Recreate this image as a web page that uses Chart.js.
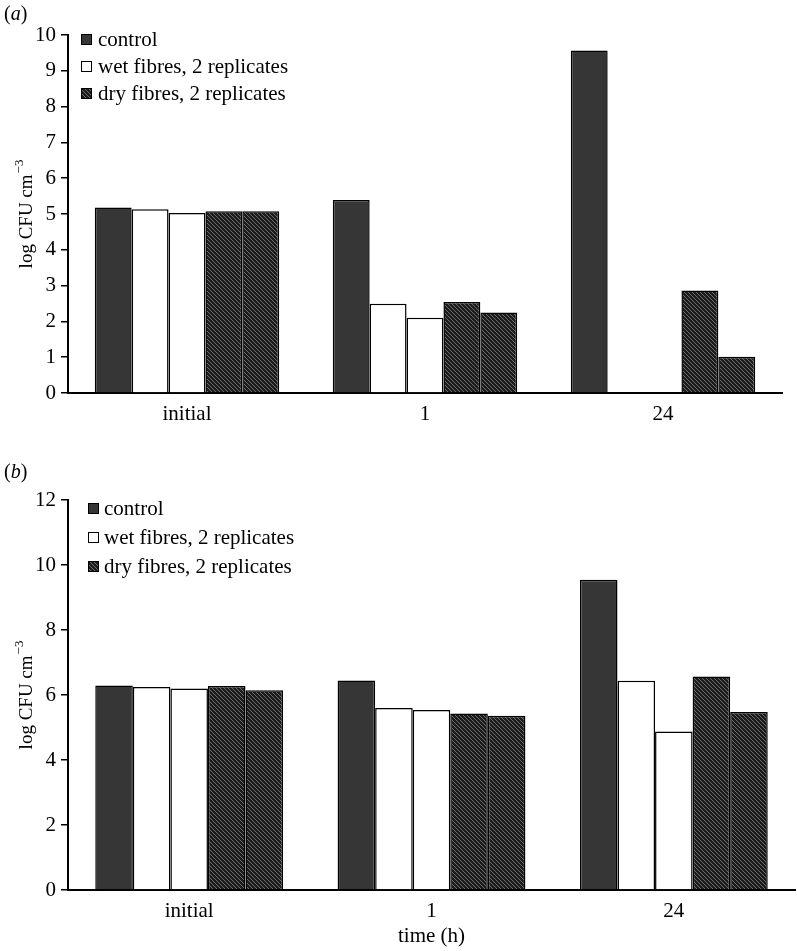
<!DOCTYPE html>
<html>
<head>
<meta charset="utf-8">
<script src="https://cdn.jsdelivr.net/npm/chart.js@4.4.0/dist/chart.umd.min.js"></script>
<style>
  body { margin: 0; background: #fff; }
  #wrap { position: relative; width: 797px; height: 951px; }
  .panel { position: absolute; left: 0; width: 797px; }
  .tag { position: absolute; left: 4px; font-family: "Liberation Serif", serif; font-size: 20px; }
  .tag i { font-style: italic; }
</style>
</head>
<body>
<div id="wrap">
  <div class="panel" style="top:0;height:430px"><canvas id="chartA"></canvas></div>
  <div class="panel" style="top:440px;height:511px"><canvas id="chartB"></canvas></div>
  <div class="tag" style="top:2px">(<i>a</i>)</div>
  <div class="tag" style="top:460px">(<i>b</i>)</div>
</div>
<script>
const categories = ["initial", "1", "24"];
const legendLabels = ["control", "wet fibres, 2 replicates", "dry fibres, 2 replicates"];

// panel (a)
const aControl = [5.18, 5.39, 9.57];
const aWet1 = [5.13, 2.49, null];
const aWet2 = [5.03, 2.10, null];
const aDry1 = [5.08, 2.54, 2.86];
const aDry2 = [5.08, 2.25, 1.01];

// panel (b)
const bControl = [6.29, 6.45, 9.55];
const bWet1 = [6.25, 5.60, 6.44];
const bWet2 = [6.20, 5.54, 4.88];
const bDry1 = [6.28, 5.43, 6.57];
const bDry2 = [6.15, 5.36, 5.48];

const SERIF = '"Liberation Serif", "Times New Roman", serif';

// hatch fill for the dry fibres
function makeHatch() {
  const c = document.createElement("canvas");
  c.width = 4; c.height = 4;
  const g = c.getContext("2d");
  g.fillStyle = "#1c1c1c";
  g.fillRect(0, 0, 4, 4);
  g.strokeStyle = "#6a6a6a";
  g.lineWidth = 1;
  g.beginPath();
  g.moveTo(0, 0); g.lineTo(4, 4);
  g.moveTo(-1, 3); g.lineTo(1, 5);
  g.moveTo(3, -1); g.lineTo(5, 1);
  g.stroke();
  return g.createPattern(c, "repeat");
}
const hatch = makeHatch();

const boxLegend = {
  id: "boxLegend",
  afterDraw(chart, args, opts) {
    const { ctx, chartArea } = chart;
    ctx.save();
    ctx.font = "21px " + SERIF;
    ctx.textBaseline = "middle";
    opts.items.forEach((dsIndex, i) => {
      const ds = chart.data.datasets[dsIndex];
      const x = chartArea.left + opts.left;
      const y = chartArea.top + opts.top + i * opts.gap;
      ctx.fillStyle = ds.backgroundColor;
      ctx.fillRect(x, y - 5, 11, 11);
      ctx.strokeStyle = "#000";
      ctx.lineWidth = 1;
      ctx.strokeRect(x + 0.5, y - 4.5, 10, 10);
      ctx.fillStyle = "#000";
      ctx.fillText(legendLabels[i], x + opts.textGap, y + 1);
    });
    ctx.restore();
  }
};

// y title with a real superscript
const yTitle = {
  id: "yTitle",
  afterDraw(chart) {
    const { ctx, chartArea } = chart;
    const main = "log CFU cm", sup = "\u22123";
    ctx.save();
    ctx.translate(25, (chartArea.top + chartArea.bottom) / 2);
    ctx.rotate(-Math.PI / 2);
    ctx.textBaseline = "middle";
    ctx.fillStyle = "#000";
    ctx.font = "19px " + SERIF;
    const w1 = ctx.measureText(main).width;
    ctx.font = "13px " + SERIF;
    const w2 = ctx.measureText(sup).width;
    let x = -(w1 + w2 + 1) / 2;
    ctx.font = "19px " + SERIF;
    ctx.fillText(main, x, 2);
    ctx.font = "13px " + SERIF;
    ctx.fillText(sup, x + w1 + 1, -5);
    ctx.restore();
  }
};

function datasets(control, wet1, wet2, dry1, dry2) {
  const base = { borderColor: "#000", borderWidth: 1.5 };
  return [
    { ...base, label: "control", data: control, backgroundColor: "#363636" },
    { ...base, label: "wet fibres, replicate 1", data: wet1, backgroundColor: "#fff" },
    { ...base, label: "wet fibres, replicate 2", data: wet2, backgroundColor: "#fff" },
    { ...base, label: "dry fibres, replicate 1", data: dry1, backgroundColor: hatch },
    { ...base, label: "dry fibres, replicate 2", data: dry2, backgroundColor: hatch }
  ];
}

function makeChart(id, ds, cfg) {
  return new Chart(document.getElementById(id), {
    type: "bar",
    data: { labels: categories, datasets: ds },
    options: {
      responsive: true,
      maintainAspectRatio: false,
      animation: false,
      layout: { padding: { top: cfg.top, right: cfg.right, left: 0, bottom: 0 } },
      datasets: { bar: { categoryPercentage: 0.775, barPercentage: 1 } },
      plugins: {
        legend: { display: false },
        tooltip: { enabled: false },
        boxLegend: cfg.legend
      },
      scales: {
        x: {
          afterFit: s => { s.height = cfg.xHeight; },
          grid: { drawOnChartArea: false, drawTicks: false },
          border: { color: "#000", width: 2 },
          ticks: { color: "#000", padding: 9, font: { family: SERIF, size: 21 } },
          title: {
            display: cfg.xTitle != null,
            text: cfg.xTitle || "",
            color: "#000",
            padding: { top: 0, bottom: 2 },
            font: { family: SERIF, size: 21 }
          }
        },
        y: {
          min: 0,
          max: cfg.yMax,
          afterFit: s => { s.width = 68; },
          grid: { drawOnChartArea: false, color: "#000", lineWidth: 1.5, tickLength: 7 },
          border: { color: "#000", width: 2 },
          ticks: { stepSize: cfg.yStep, color: "#000", padding: 5, font: { family: SERIF, size: 21 } }
        }
      }
    },
    plugins: [boxLegend, yTitle]
  });
}

makeChart("chartA", datasets(aControl, aWet1, aWet2, aDry1, aDry2), {
  top: 35, right: 15, xHeight: 37, yMax: 10, yStep: 1, xTitle: null,
  legend: { items: [0, 1, 3], left: 13, top: 4, gap: 27, textGap: 17 }
});

makeChart("chartB", datasets(bControl, bWet1, bWet2, bDry1, bDry2), {
  top: 60, right: 2, xHeight: 61, yMax: 12, yStep: 2, xTitle: "time (h)",
  legend: { items: [0, 1, 3], left: 20, top: 8, gap: 29, textGap: 16 }
});
</script>
</body>
</html>
